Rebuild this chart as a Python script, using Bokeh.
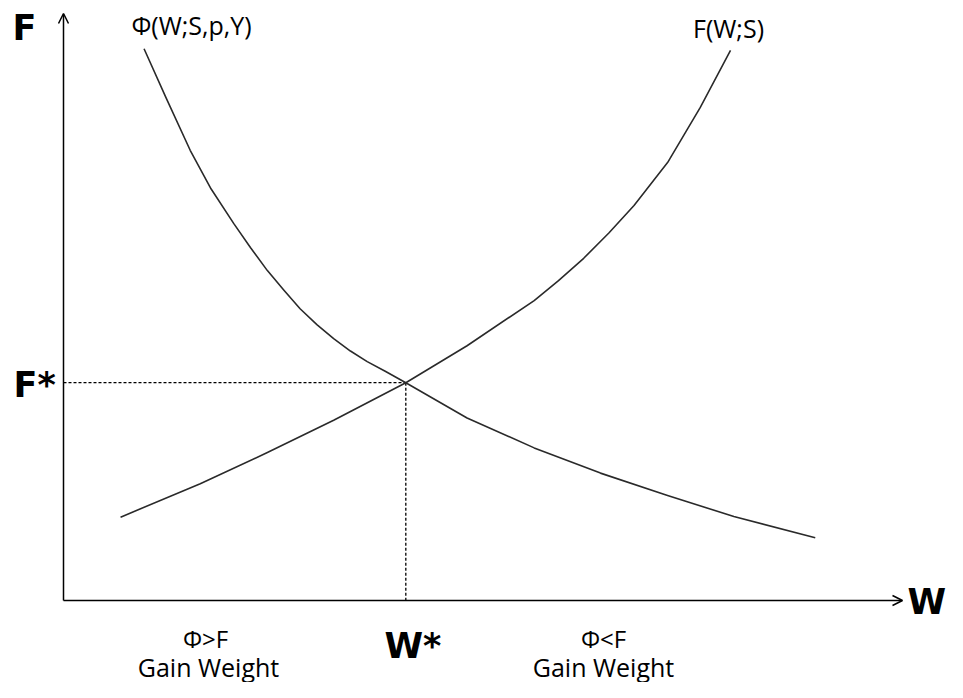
from bokeh.plotting import figure
from bokeh.models import Arrow, OpenHead, Range1d
from bokeh.core.properties import value
from bokeh.embed import file_html
from bokeh.resources import INLINE

# ---------------- data ----------------
# Phi(W;S,p,Y) curve (falling)
W_phi = [0.96, 1.22, 1.51, 1.76, 2.03, 2.23, 2.43, 2.63, 2.82, 3.02, 3.22, 3.42, 3.62, 3.84,
         4.08, 4.81, 5.61, 6.40, 7.20, 7.99, 8.96]
F_phi = [9.40, 8.57, 7.67, 7.01, 6.42, 6.01, 5.62, 5.28, 4.97, 4.70, 4.46, 4.25, 4.07, 3.90,
         3.71, 3.11, 2.60, 2.17, 1.79, 1.43, 1.07]
# F(W;S) curve (rising)
W_f = [0.68, 1.63, 2.43, 3.22, 4.08, 4.81, 5.61, 5.90, 6.20, 6.50, 6.80, 7.20, 7.59, 7.95]
F_f = [1.42, 1.99, 2.52, 3.07, 3.71, 4.34, 5.11, 5.45, 5.83, 6.26, 6.73, 7.46, 8.40, 9.37]
# equilibrium
W_star = 4.08
F_star = 3.71
# axis extents
W_max = 10.0
F_max = 10.0

curve_labels = ["Φ(W;S,p,Y)", "F(W;S)"]
axis_labels = ["F", "F*", "W*", "W"]
region_top = ["Φ>F", "Φ<F"]
region_bottom = ["Gain Weight", "Gain Weight"]

# ---------------- layout helpers (canvas pixels -> data) ----------------
PX_X0, PX_Y0 = 63, 600
SX, SY = 83.9, 58.7
CW, CH = 947, 682


def X(px):
    return (px - PX_X0) / SX


def Y(py):
    return (PX_Y0 - py) / SY


p = figure(width=CW, height=CH, output_backend="svg", toolbar_location=None,
           x_range=Range1d(X(0), X(CW)), y_range=Range1d(Y(CH), Y(0)),
           x_axis_type=None, y_axis_type=None, min_border=0)
p.grid.visible = False
p.outline_line_color = None
p.background_fill_color = "white"
p.border_fill_color = "white"

# axes with open arrow heads
p.add_layout(Arrow(end=OpenHead(size=10, line_width=1.5, line_color="black"),
                   x_start=0, y_start=0, x_end=W_max, y_end=0,
                   line_width=1.5, line_color="black"))
p.add_layout(Arrow(end=OpenHead(size=10, line_width=1.5, line_color="black"),
                   x_start=0, y_start=0, x_end=0, y_end=F_max,
                   line_width=1.5, line_color="black"))

# dashed guides
p.line([0, W_star], [F_star, F_star], line_color="black", line_width=1.3, line_dash="3 2")
p.line([W_star, W_star], [F_star, 0], line_color="black", line_width=1.3, line_dash="3 2")

# curves
p.line(W_phi, F_phi, line_color="#2a2a2a", line_width=1.6, line_join="round")
p.line(W_f, F_f, line_color="#2a2a2a", line_width=1.6, line_join="round")

# curve labels
p.text(x=[X(191), X(728)], y=[Y(24), Y(27)], text=curve_labels,
       text_font=value("Open Sans"), text_font_size="25px", text_color="black",
       text_align="center", text_baseline="alphabetic")

# bold axis labels
p.text(x=[X(12), X(13), X(384), X(907)], y=[Y(27), Y(384), Y(645), Y(601)], text=axis_labels,
       text_font=value("DejaVu Sans"), text_font_style="bold", text_font_size="35px",
       text_color="black", text_align="left", text_baseline="alphabetic")

# region notes
p.text(x=[X(205), X(603)], y=[Y(638), Y(638)], text=region_top,
       text_font=value("Open Sans"), text_font_size="24px", text_color="black",
       text_align="center", text_baseline="alphabetic")
p.text(x=[X(208), X(603)], y=[Y(666), Y(666)], text=region_bottom,
       text_font=value("Open Sans"), text_font_size="25px", text_color="black",
       text_align="center", text_baseline="alphabetic")

open("out.html", "w").write(file_html(p, INLINE))
